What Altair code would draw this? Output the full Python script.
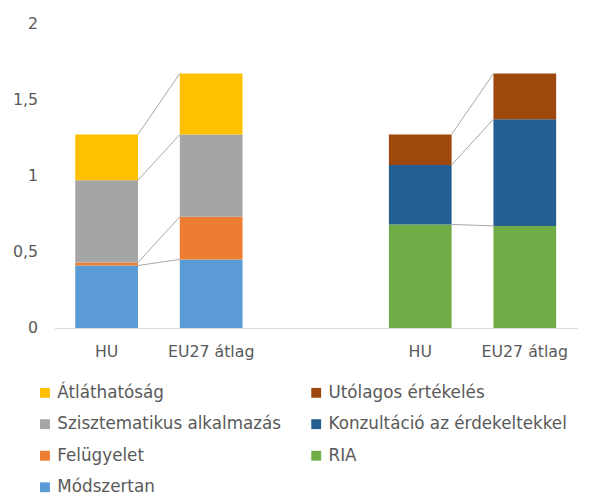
import altair as alt
import pandas as pd

# Category slots on the x axis (middle slot is an empty gap)
slot_keys = ["L_HU", "L_EU", "GAP", "R_HU", "R_EU"]
slot_labels = ["HU", "EU27 átlag", "", "HU", "EU27 átlag"]

# Left group series (bottom -> top)
series_left = ["Módszertan", "Felügyelet", "Szisztematikus alkalmazás", "Átláthatóság"]
left_hu = [0.41, 0.02, 0.54, 0.30]
left_eu = [0.45, 0.28, 0.54, 0.40]

# Right group series (bottom -> top)
series_right = ["RIA", "Konzultáció az érdekeltekkel", "Utólagos értékelés"]
right_hu = [0.68, 0.39, 0.20]
right_eu = [0.67, 0.70, 0.30]

# Legend order (column-major, 2 columns) and colours
legend_order = ["Átláthatóság", "Szisztematikus alkalmazás", "Felügyelet", "Módszertan",
                "Utólagos értékelés", "Konzultáció az érdekeltekkel", "RIA"]
legend_colors = ["#FFC000", "#A5A5A5", "#ED7D31", "#5B9BD5",
                 "#9E480E", "#255E91", "#70AD47"]

rows = []
for i, s in enumerate(series_left):
    rows.append({"slot": "L_HU", "series": s, "value": left_hu[i], "ord": i})
    rows.append({"slot": "L_EU", "series": s, "value": left_eu[i], "ord": i})
for i, s in enumerate(series_right):
    rows.append({"slot": "R_HU", "series": s, "value": right_hu[i], "ord": i})
    rows.append({"slot": "R_EU", "series": s, "value": right_eu[i], "ord": i})
bars_df = pd.DataFrame(rows)

# Series connector lines between stacked tops
lines = []
for vals_a, vals_b, a, b in [(left_hu, left_eu, "L_HU", "L_EU"),
                             (right_hu, right_eu, "R_HU", "R_EU")]:
    ca = pd.Series(vals_a).cumsum()
    cb = pd.Series(vals_b).cumsum()
    for k in range(len(vals_a)):
        lines.append({"from": a, "to": b, "y1": float(ca[k]), "y2": float(cb[k])})
lines_df = pd.DataFrame(lines)

label_map = "{" + ",".join(f"'{k}':'{v}'" for k, v in zip(slot_keys, slot_labels)) + "}"

FONT = "DejaVu Sans"
TXT = "#595959"

xscale = alt.Scale(domain=slot_keys, paddingInner=0.4, paddingOuter=0.2)
yscale = alt.Scale(domain=[0, 2])

bars = alt.Chart(bars_df).mark_bar().encode(
    x=alt.X("slot:N", scale=xscale, sort=slot_keys, title=None,
            axis=alt.Axis(labelExpr=f"{label_map}[datum.value]", labelAngle=0,
                          ticks=False, domainColor="#d9d9d9", labelColor=TXT,
                          labelFont=FONT, labelFontSize=16, labelPadding=16)),
    y=alt.Y("value:Q", stack="zero", scale=yscale, title=None,
            axis=alt.Axis(values=[0, 0.5, 1, 1.5, 2], grid=False, domain=False,
                          ticks=False, labelColor=TXT, labelFont=FONT,
                          labelFontSize=16, labelPadding=17,
                          labelExpr="replace(toString(datum.value), '.', ',')")),
    color=alt.Color("series:N", scale=alt.Scale(domain=legend_order, range=legend_colors),
                    legend=alt.Legend(title=None, orient="none", columns=2,
                                      legendX=-18, legendY=366,
                                      symbolType="square", symbolSize=100,
                                      symbolStrokeWidth=0,
                                      labelFont=FONT, labelFontSize=17, labelColor=TXT,
                                      rowPadding=14, columnPadding=26,
                                      labelLimit=400)),
    order=alt.Order("ord:Q"),
)

conn = alt.Chart(lines_df).mark_rule(color="#A6A6A6", strokeWidth=1).encode(
    x=alt.X("from:N", scale=xscale, bandPosition=1),
    x2=alt.X2("to:N", bandPosition=0),
    y=alt.Y("y1:Q", scale=yscale),
    y2=alt.Y2("y2:Q"),
)

chart = alt.layer(bars, conn).properties(
    width=530, height=309,
    padding={"left": 4, "top": 4, "right": 5, "bottom": 5},
).configure_view(stroke=None)

chart.save("out.html", embed_options={"renderer": "svg", "actions": False})
